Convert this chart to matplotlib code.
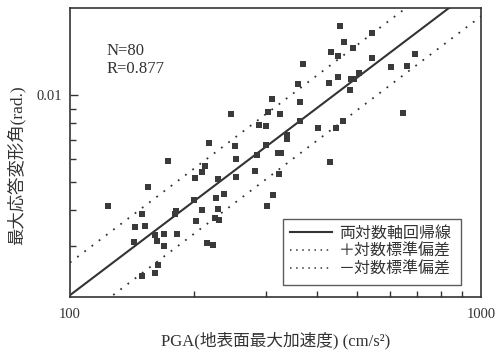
import numpy as np
import matplotlib.pyplot as plt
from matplotlib.lines import Line2D

# PGA (cm/s2) and max response drift angle (rad.)
pga = [124, 144, 143, 150, 152.5, 155, 150, 161, 163.5, 161,
       163, 169, 169.6, 173, 181, 180, 182, 200, 201.5, 202,
       210, 213, 210, 217.5, 216, 222.5, 226, 229, 229, 225,
       231, 237, 247, 252, 254, 254, 282, 285, 288, 300,
       300, 304, 310, 311, 302, 320, 326, 322.5, 324, 454,
       543, 464, 488, 431, 449, 369.5, 542, 603, 662, 690,
       427.5, 448, 359, 484, 491, 505, 480, 362, 362, 402,
       443, 461.5, 646, 337, 337, 430]
drift = [0.00414, 0.00350, 0.00311, 0.00388, 0.00354, 0.00483, 0.00236, 0.00243, 0.00259, 0.00329,
         0.00313, 0.00330, 0.00301, 0.00594, 0.00398, 0.00388, 0.00330, 0.00433, 0.00516, 0.00366,
         0.00544, 0.00569, 0.00400, 0.00682, 0.00307, 0.00303, 0.00441, 0.00515, 0.00403, 0.00375,
         0.00369, 0.00456, 0.00860, 0.00670, 0.00601, 0.00522, 0.00547, 0.00622, 0.00792, 0.00783,
         0.00675, 0.00873, 0.00969, 0.00453, 0.00414, 0.00630, 0.00630, 0.00535, 0.00863, 0.01747,
         0.01645, 0.01538, 0.01462, 0.01416, 0.01375, 0.01285, 0.01350, 0.01253, 0.01270, 0.01392,
         0.01103, 0.01157, 0.01093, 0.01140, 0.01142, 0.01196, 0.01043, 0.00947, 0.00814, 0.00771,
         0.00769, 0.00815, 0.00866, 0.00727, 0.00708, 0.00586]

# regression in log-log space: y = a * (x/100)^b, +/- one log std
a = 0.00203
b = 1.08
log_sd = 0.113

legend_labels = ['両対数軸回帰線', '＋対数標準偏差', '－対数標準偏差']

fam = ['Liberation Serif', 'Noto Sans CJK JP']
ink = '#333333'

fig = plt.figure(figsize=(4.98, 3.51), dpi=100)
ax = fig.add_axes([0.1406, 0.1538, 0.8253, 0.8234])

xs = np.array([100, 1000])
reg = a * (xs / 100) ** b
ax.plot(xs, reg, color=ink, lw=1.5, zorder=2)
ax.plot(xs, reg * 10 ** log_sd, color=ink, lw=1.3, ls=(0, (1, 4)), zorder=2)
ax.plot(xs, reg / 10 ** log_sd, color=ink, lw=1.3, ls=(0, (1, 4)), zorder=2)

ax.scatter(pga, drift, marker='s', s=24, color='#3a3a3a', linewidths=0, zorder=3)

ax.set_xscale('log')
ax.set_yscale('log')
ax.set_xlim(100, 1000)
ax.set_ylim(0.002, 0.0201)

ax.set_xticks([100, 1000])
ax.set_xticklabels(['100', '1000'])
ax.set_xticks([200, 300, 400, 500, 600, 700, 800, 900], minor=True)
ax.set_yticks([0.01])
ax.set_yticklabels(['0.01'])
ax.set_yticks([0.003, 0.004, 0.005, 0.006, 0.007, 0.008, 0.009], minor=True)
ax.set_yticklabels([], minor=True)
ax.set_xticklabels([], minor=True)

ax.tick_params(which='both', direction='in', color=ink, width=1.0)
ax.tick_params(which='major', length=6)
ax.tick_params(which='minor', length=4)
ax.tick_params(axis='x', which='major', length=0, pad=8)
ax.tick_params(axis='y', which='major', pad=6)
for lab in ax.get_xticklabels() + ax.get_yticklabels():
    lab.set_family(fam)
    lab.set_fontsize(10.5)
    lab.set_color(ink)

for sp in ax.spines.values():
    sp.set_color(ink)
    sp.set_linewidth(1.2)

ax.set_xlabel('PGA(地表面最大加速度) (cm/s²)', family=fam, fontsize=12, color=ink)
ax.xaxis.set_label_coords(0.5, -0.152)
ax.xaxis.label.set_va('center')
ax.set_ylabel('最大応答変形角(rad.)', family=fam, fontsize=12.5, color=ink)
ax.yaxis.set_label_coords(-0.131, 0.457)
ax.yaxis.label.set_va('center')

ax.text(0.090, 0.82, 'N=80\nR=0.877', transform=ax.transAxes, family=fam,
        fontsize=12, color=ink, va='center', ha='left', linespacing=1.15)

handles = [Line2D([], [], color=ink, lw=1.5),
           Line2D([], [], color=ink, lw=1.1, ls=(0, (1, 3))),
           Line2D([], [], color=ink, lw=1.1, ls=(0, (1, 3)))]
leg = ax.legend(handles, legend_labels, loc='lower left', mode='expand',
                bbox_to_anchor=(0.518, 0.0415, 0.433, 0.23), prop={'family': fam, 'size': 11.5},
                frameon=True, fancybox=False, handlelength=2.6, handletextpad=0.45,
                labelspacing=0.12, borderpad=0.45, borderaxespad=0)
leg.get_frame().set_edgecolor(ink)
leg.get_frame().set_linewidth(1.0)
for t in leg.get_texts():
    t.set_color(ink)

fig.savefig('out.png', dpi=100)
